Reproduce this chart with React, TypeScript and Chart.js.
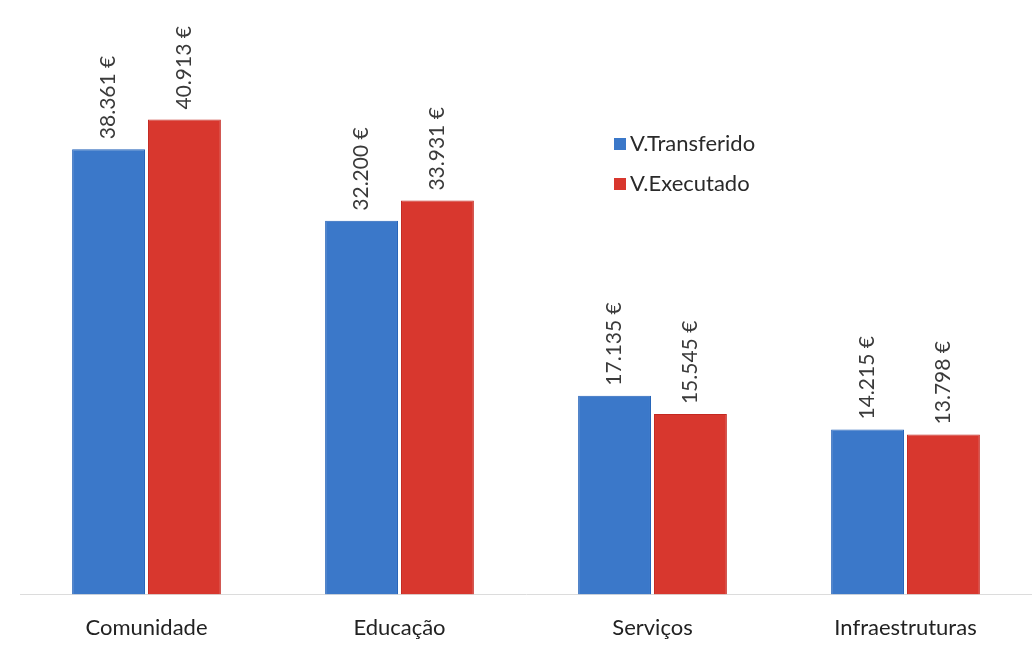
import React, { useEffect, useRef } from "react";
import { Chart, registerables } from "chart.js";

Chart.register(...registerables);

const categories = ["Comunidade", "Educação", "Serviços", "Infraestruturas"];
const transferido = [38361, 32200, 17135, 14215];
const executado = [40913, 33931, 15545, 13798];
const seriesLabels = ["V.Transferido", "V.Executado"];

const fmt = (v: number) => {
  const s = Math.round(v).toString().replace(/\B(?=(\d{3})+(?!\d))/g, ".");
  return s + " €";
};

const FONT = "Lato, 'Open Sans', sans-serif";

const valueLabels = {
  id: "valueLabels",
  afterDatasetsDraw(chart: any) {
    const ctx = chart.ctx;
    ctx.save();
    ctx.font = "21px " + FONT;
    ctx.fillStyle = "#3a3a3a";
    ctx.textAlign = "left";
    ctx.textBaseline = "middle";
    chart.data.datasets.forEach((ds: any, di: number) => {
      const meta = chart.getDatasetMeta(di);
      meta.data.forEach((bar: any, i: number) => {
        ctx.save();
        ctx.translate(bar.x, bar.y - 10);
        ctx.rotate(-Math.PI / 2);
        ctx.fillText(fmt(ds.data[i]), 0, 0);
        ctx.restore();
      });
    });
    ctx.restore();
  },
};

const customLegend = {
  id: "customLegend",
  afterDraw(chart: any) {
    const ctx = chart.ctx;
    ctx.save();
    ctx.font = "22px " + FONT;
    ctx.textBaseline = "middle";
    ctx.textAlign = "left";
    const x0 = 614;
    const y0 = 144;
    chart.data.datasets.forEach((ds: any, i: number) => {
      const y = y0 + i * 40;
      ctx.fillStyle = ds.backgroundColor;
      ctx.fillRect(x0, y - 6, 12, 12);
      ctx.fillStyle = "#2a2a2a";
      ctx.fillText(ds.label, x0 + 16, y);
    });
    ctx.restore();
  },
};

export default function App() {
  const ref = useRef<HTMLCanvasElement | null>(null);
  useEffect(() => {
    document.body.style.margin = "0";
    if (!ref.current) return;
    const chart = new Chart(ref.current, {
      type: "bar",
      data: {
        labels: categories,
        datasets: [
          {
            label: seriesLabels[0],
            data: transferido,
            backgroundColor: "#3b78c9",
            borderColor: "#2362b8",
            borderWidth: 1,
          },
          {
            label: seriesLabels[1],
            data: executado,
            backgroundColor: "#d8372e",
            borderColor: "#c42820",
            borderWidth: 1,
          },
        ],
      },
      options: {
        animation: false,
        responsive: false,
        maintainAspectRatio: false,
        layout: { padding: { left: 20, right: 0, top: 14, bottom: 0 } },
        datasets: {
          bar: { categoryPercentage: 0.6, barPercentage: 0.96 },
        },
        plugins: {
          legend: { display: false },
          tooltip: { enabled: false },
        },
        scales: {
          x: {
            grid: { display: false, drawTicks: false },
            border: { display: true, color: "#dcdcdc", width: 1 },
            ticks: {
              padding: 20,
              color: "#222222",
              font: { family: FONT, size: 22 },
              maxRotation: 0,
            },
          },
          y: {
            display: false,
            min: 0,
            max: 50000,
            grid: { display: false },
          },
        },
      },
      plugins: [valueLabels, customLegend],
    });
    return () => chart.destroy();
  }, []);
  return (
    <div style={{ width: 1032, height: 661, background: "#fff" }}>
      <canvas ref={ref} width={1032} height={661} style={{ display: "block" }} />
    </div>
  );
}
